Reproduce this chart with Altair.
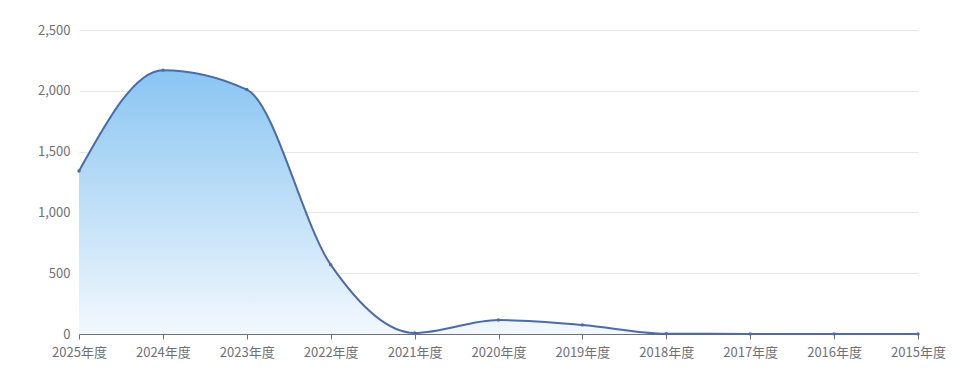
import altair as alt
import pandas as pd

years = ["2025年度", "2024年度", "2023年度", "2022年度", "2021年度", "2020年度",
         "2019年度", "2018年度", "2017年度", "2016年度", "2015年度"]
values = [1340, 2170, 2010, 570, 8, 115, 75, 2, 1, 1, 1]
y_ticks = [0, 500, 1000, 1500, 2000, 2500]

df = pd.DataFrame({"year": years, "value": values})

font = "Noto Sans CJK SC"
line_color = "#4e6ba6"
label_color = "#6e7079"

x_enc = alt.X("year:N", sort=years, title=None,
              scale=alt.Scale(type="point", padding=0),
              axis=alt.Axis(labelAngle=0, domainColor=label_color, tickColor=label_color,
                            tickSize=5, labelColor=label_color, labelFontSize=13,
                            labelPadding=7, labelFont=font, grid=False))
y_enc = alt.Y("value:Q", title=None,
              scale=alt.Scale(domain=[0, 2500], nice=False),
              axis=alt.Axis(values=y_ticks, format=",d",
                            domain=False, ticks=False, labelColor=label_color,
                            labelFontSize=13, labelPadding=9, labelFont=font,
                            gridColor="#e6e6e6", gridWidth=1))

base = alt.Chart(df).encode(x=x_enc, y=y_enc)

area = base.mark_area(
    interpolate="monotone",
    color=alt.Gradient(
        gradient="linear",
        stops=[alt.GradientStop(color="#8ac5f2", offset=0),
               alt.GradientStop(color="#c3e1f8", offset=0.55),
               alt.GradientStop(color="#f2f8fe", offset=1)],
        x1=1, x2=1, y1=0, y2=1,
    ),
)

line = base.mark_line(interpolate="monotone", color=line_color, strokeWidth=2)

pts = base.mark_point(filled=True, color=line_color, size=12, opacity=1)

chart = (area + line + pts).properties(
    width=839, height=304,
    autosize=alt.AutoSizeParams(type="none"),
    padding={"left": 79, "top": 30, "right": 60, "bottom": 48},
    background="white",
).configure_view(stroke=None)

chart.save("out.html", embed_options={"renderer": "svg", "actions": False})
